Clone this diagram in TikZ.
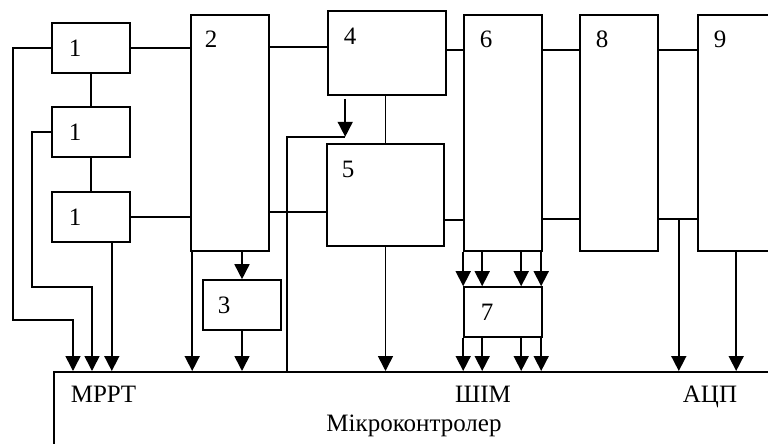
\documentclass[tikz,border=0pt]{standalone}
\usepackage{fontspec}
\setmainfont{Liberation Serif}
\usetikzlibrary{arrows.meta,positioning}
\tikzset{>={Triangle[width=15pt,length=15pt]}}

\begin{document}
\begin{tikzpicture}[x=1pt,y=-1pt,line width=1.6pt,font=\fontsize{25}{29}\selectfont,
    blk/.style={draw, inner sep=0pt, minimum width=78pt},
    small/.style={blk, minimum height=50pt},
    tall/.style={blk, minimum height=236pt},
    num/.style={anchor=center, inner sep=0pt},
    txt/.style={inner sep=0pt, anchor=base}]
  \useasboundingbox (0,0) rectangle (768,444);
  \clip (0,0) rectangle (768,444);
  % blocks
  \node[small, label={[num,xshift=24pt]west:1}] (b1a) at (91,48) {};
  \node[small, below of=b1a, node distance=84pt, label={[num,xshift=24pt]west:1}] (b1b) {};
  \node[small, below of=b1b, node distance=85pt, label={[num,xshift=24pt]west:1}] (b1c) {};
  \node[tall, label={[num,xshift=21pt,yshift=-25pt]north west:2}] (b2) at (230,133) {};
  \node[small, label={[num,xshift=22pt]west:3}] (b3) at (242,305) {};
  \node[blk, minimum width=118pt, minimum height=84pt, label={[num,xshift=23pt,yshift=-26pt]north west:4}] (b4) at (387,53) {};
  \node[blk, minimum width=117pt, minimum height=102pt, label={[num,xshift=22pt,yshift=-26pt]north west:5}] (b5) at (385.5,195) {};
  \node[tall, right of=b2, node distance=273pt, label={[num,xshift=23pt,yshift=-25pt]north west:6}] (b6) {};
  \node[small, label={[num,xshift=24pt]west:7}] (b7) at (503,312) {};
  \node[tall, right of=b6, node distance=116pt, label={[num,xshift=23pt,yshift=-25pt]north west:8}] (b8) {};
  \node[tall, right of=b8, node distance=118pt, label={[num,xshift=23pt,yshift=-25pt]north west:9}] (b9) {};
  \node[draw, inner sep=0pt, anchor=north west, minimum width=760pt, minimum height=100pt] (mc) at (53,371) {};
  % microcontroller texts
  \node[txt, anchor=base west] (mppt) at ([xshift=17pt,yshift=-31pt]mc.north west) {MPPT};
  \node[txt] (pwm) at ([xshift=430pt,yshift=-31pt]mc.north west) {ШІМ};
  \node[txt] (adcl) at ([xshift=657pt,yshift=-31pt]mc.north west) {АЦП};
  \node[txt] (mcl) at ([xshift=361pt,yshift=-60pt]mc.north west) {Мікроконтролер};
  % links between blocks
  \draw (b1a) -- (b1b);
  \draw (b1b) -- (b1c);
  \draw (b1a.east) -- (b1a.east -| b2.west);
  \draw (b1c.east) -- (b1c.east -| b2.west);
  \draw ([yshift=6pt]b4.west) -- ([yshift=6pt]b4.west -| b2.east);
  \draw (b5.north) -- (b5.north |- b4.south);
  \draw ([yshift=-17pt]b5.west) -- ([yshift=-17pt]b5.west -| b2.east);
  \draw ([yshift=3pt]b4.east) -- ([yshift=3pt]b4.east -| b6.west);
  \draw ([yshift=-25pt]b5.east) -- ([yshift=-25pt]b5.east -| b6.west);
  \foreach \a/\b in {b6/b8, b8/b9} {
    \draw ([yshift=83pt]\a.east) -- ([yshift=83pt]\b.west);
    \draw ([yshift=-86pt]\a.east) -- ([yshift=-86pt]\b.west);
  }
  % arrows into the microcontroller
  \draw[->] (b1a.west) -- ++(-38,0) -- ++(0,272) -| ([xshift=20pt]mc.north west);
  \draw[->] (b1b.west) -- ++(-19,0) -- ++(0,155) -| ([xshift=39pt]mc.north west);
  \draw[->] ([xshift=-19pt]b1c.south east) -- ([xshift=-19pt]b1c.south east |- mc.north);
  \draw[->] ([xshift=2pt]b2.south west) -- ([xshift=2pt]b2.south west |- mc.north);
  \draw[->] (b3.north |- b2.south) -- (b3.north);
  \draw[->] (b3.south) -- (b3.south |- mc.north);
  \coordinate (tap) at ([xshift=18pt,yshift=-41pt]b4.south west);
  \draw[->, shorten <=3pt] ([xshift=18pt]b4.south west) -- (tap);
  \draw ([xshift=234pt]mc.north west) |- (tap);
  \draw[->] (b5.south) -- (b5.south |- mc.north);
  \foreach \dx in {0,19,58,78} {
    \draw[->] ([xshift=\dx pt]b6.south west) -- ([xshift=\dx pt]b7.north west);
    \draw[->] ([xshift=\dx pt]b7.south west) -- ([xshift=\dx pt]b7.south west |- mc.north);
  }
  \coordinate (adc) at ([xshift=20pt,yshift=-86pt]b8.east);
  \draw[->] (adc) -- (adc |- mc.north);
  \draw[->] ([xshift=39pt]b9.south west) -- ([xshift=39pt]b9.south west |- mc.north);
\end{tikzpicture}
\end{document}
